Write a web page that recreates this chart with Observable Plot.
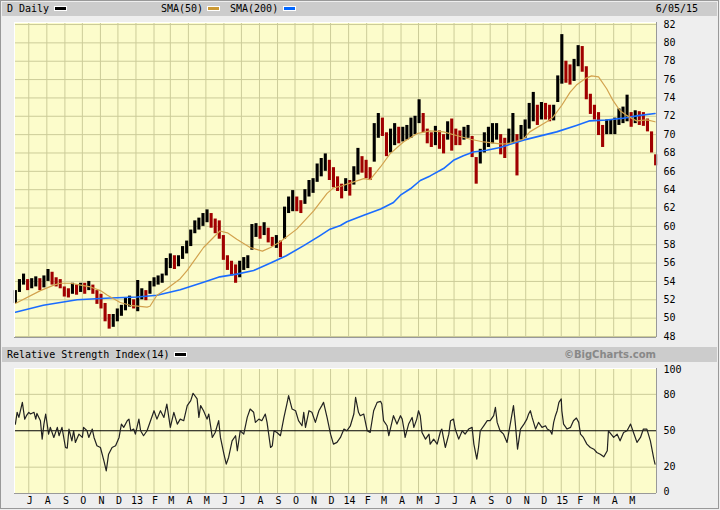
<!DOCTYPE html>
<html><head><meta charset="utf-8">
<script src="https://cdn.jsdelivr.net/npm/d3@7"></script>
<script src="https://cdn.jsdelivr.net/npm/@observablehq/plot@0.6"></script>
<style>
body{margin:0;background:#eeeeee;}
#wrap{position:relative;width:720px;height:510px;background:#eeeeee;overflow:hidden;font-family:"DejaVu Sans Mono",monospace;font-size:10px;color:#000;}
#frame{position:absolute;left:0;top:0;width:719px;height:509px;box-sizing:border-box;border:1px solid #999;pointer-events:none;}
.band{position:absolute;left:2px;width:715px;background:#cccccc;}
.t{position:absolute;white-space:pre;line-height:10px;}
.sw{position:absolute;width:11px;height:3px;border:1px solid #fff;}
#main,#rsi{position:absolute;left:0;}
#main{top:0;}
#rsi{top:362px;}
</style></head>
<body><div id="wrap">
<div class="band" style="top:2px;height:14px"></div>
<span class="t" style="left:7px;top:3.5px">D Daily</span>
<span class="sw" style="left:54px;top:6px;background:#000"></span>
<span class="t" style="left:161px;top:3.5px">SMA(50)</span>
<span class="sw" style="left:207px;top:6px;background:#cc9933"></span>
<span class="t" style="left:230px;top:3.5px">SMA(200)</span>
<span class="sw" style="left:283px;top:6px;background:#0066ff"></span>
<span class="t" style="right:22px;top:3.5px">6/05/15</span>
<div id="main"></div>
<div class="band" style="top:347px;height:15px"></div>
<span class="t" style="left:7px;top:349.5px">Relative Strength Index(14)</span>
<span class="sw" style="left:174px;top:352px;background:#000"></span>
<span class="t" style="right:64px;top:349.5px;font-family:'DejaVu Sans';font-weight:bold;color:#888">©BigCharts.com</span>
<div id="rsi"></div>
<div id="frame"></div>
</div>
<script>
// ---- data ----
const startDate = Date.UTC(2012, 5, 8); // first weekly bar
const monthLetters = ["J","F","M","A","M","J","J","A","S","O","N","D"];
const priceTicks = [48,50,52,54,56,58,60,62,64,66,68,70,72,74,76,78,80,82];
const rsiTicks = [0,20,50,80,100];
const rsiGrid = [20,80];

// weekly low / high (one entry per week)
const priceLow = [51.6,52.8,53.6,53.0,53.2,53.4,53.0,53.3,54.0,53.6,53.4,53.2,52.3,52.2,52.6,52.5,52.8,52.6,53.0,52.6,
51.5,51.0,49.6,48.8,49.0,49.6,50.2,50.8,51.2,51.0,50.7,52.0,51.9,52.6,53.4,53.6,53.8,54.6,55.4,55.3,
55.6,56.4,57.0,57.8,59.2,59.6,60.0,60.4,59.8,59.2,58.6,56.3,55.2,54.6,53.8,54.4,55.2,55.4,57.4,58.8,
58.6,59.0,58.2,57.8,57.6,56.6,58.6,61.4,61.6,61.6,61.4,62.4,63.2,63.6,64.8,65.4,66.0,65.0,64.2,63.8,
63.0,63.8,63.3,64.5,65.6,65.8,65.2,65.0,67.0,69.6,69.8,67.6,68.0,68.8,69.0,69.2,69.4,69.6,70.0,71.2,
70.2,69.0,68.6,68.8,68.4,67.9,69.4,68.2,68.8,68.8,69.4,69.6,67.5,64.6,66.8,68.0,68.6,69.0,69.4,67.8,
67.4,69.0,69.0,65.5,69.4,69.6,70.6,71.4,71.0,71.6,71.6,71.4,71.5,73.5,75.5,75.6,75.4,75.8,77.4,76.8,
73.8,72.2,71.6,69.9,68.6,70.0,70.0,70.0,71.0,71.2,71.4,70.8,71.2,71.0,70.9,70.3,68.0,66.6];
const priceHigh = [53.0,54.2,54.8,54.2,54.3,54.5,54.3,54.6,55.3,55.0,54.4,54.2,53.4,53.2,53.8,53.6,53.8,53.8,54.0,53.6,
53.0,52.6,51.6,50.4,50.4,51.0,51.4,52.2,52.4,52.0,54.1,53.2,53.0,54.0,54.4,54.6,54.8,56.5,57.0,56.8,
56.8,57.8,58.4,59.6,60.6,60.9,61.4,61.8,61.4,60.8,60.6,59.0,56.8,56.2,55.8,56.2,56.6,56.8,60.2,60.3,
60.0,60.4,59.8,58.8,59.0,58.4,62.1,63.2,63.9,63.2,62.8,64.0,65.0,65.2,66.8,67.4,67.9,67.2,66.4,65.4,
64.6,65.2,65.0,66.5,68.5,67.6,67.2,66.4,71.2,72.3,71.8,70.2,70.6,71.2,70.8,70.8,71.0,71.8,72.0,73.8,
72.3,70.6,70.2,70.9,70.4,70.0,71.4,71.7,70.6,70.4,70.8,71.0,69.8,67.5,68.4,70.2,70.8,71.2,71.2,70.0,
69.6,70.6,72.3,70.0,71.0,71.6,73.4,74.6,73.2,73.5,73.4,73.2,73.2,76.4,80.9,78.0,77.6,78.2,79.7,79.6,
77.4,74.4,73.2,72.4,71.0,71.6,71.6,71.8,72.8,73.0,74.3,72.4,72.6,72.5,72.4,71.7,70.3,67.8];

// [days after startDate, value]
const sma50 = [[0,51.6],[43,53.0],[66,53.6],[77,53.8],[95,53.8],[112,53.6],[129,53.4],[146,53.0],[158,52.5],[180,51.7],
[197,51.4],[226,51.2],[231,51.3],[243,52.5],[260,53.2],[283,54.3],[295,55.2],[323,57.7],[351,59.5],[364,59.3],
[380,58.6],[403,57.7],[424,57.3],[438,57.7],[454,58.3],[483,59.7],[512,61.7],[535,63.6],[546,64.2],[560,64.4],
[569,64.6],[598,65.2],[609,65.1],[627,66.5],[643,67.9],[666,69.2],[689,70.1],[712,70.4],[735,70.3],[757,69.9],
[781,69.5],[804,69.2],[832,69.0],[844,69.0],[872,69.5],[883,70.3],[912,71.4],[923,71.9],[938,73.2],[952,74.6],
[963,75.4],[978,76.1],[989,76.4],[1001,76.3],[1015,75.0],[1026,73.7],[1038,72.6],[1049,72.1],[1066,71.5],[1084,71.6],[1098,71.4]];
const sma200 = [[0,50.65],[48,51.4],[106,52.0],[163,52.2],[209,52.3],[243,52.5],[283,53.1],[323,53.9],[351,54.5],[380,54.8],
[409,55.2],[438,56.0],[465,56.8],[495,57.9],[523,59.0],[540,59.7],[558,60.1],[569,60.5],[598,61.2],[627,61.9],
[649,62.6],[661,63.4],[678,64.1],[695,65.0],[712,65.5],[735,66.3],[752,67.2],[769,67.7],[786,68.1],[809,68.3],
[832,68.6],[872,69.4],[929,70.3],[963,71.0],[986,71.5],[1015,71.6],[1044,71.8],[1072,72.1],[1098,72.3]];
const rsi14 = [[0,55.5],[3,65.2],[6,61.0],[12,73.4],[16,59.6],[19,62.4],[23,65.2],[26,63.8],[32,65.2],[35,59.6],[37,64.3],[43,58.3],[46,43.1],[49,55.5],[52,63.8],[55,54.1],[57,47.2],[60,52.8],[66,44.5],[72,52.8],[75,45.9],[80,52.8],[86,36.2],[89,35.7],[92,51.4],[97,41.7],[100,50],[103,40.4],[109,47.2],[115,44.5],[117,52.8],[123,50],[126,44.5],[132,51.4],[135,44.5],[140,37.6],[146,36.2],[152,25.2],[156,16.9],[160,30.7],[166,36.2],[172,37.6],[178,44.5],[182,55.5],[186,52.8],[192,58.3],[195,59.6],[198,50],[203,51.4],[206,47.2],[212,59.6],[215,50],[220,45.9],[226,50],[232,58.3],[238,66.5],[243,59.6],[249,66.5],[255,61.0],[260,72.0],[266,52.8],[272,65.2],[278,55.5],[283,59.6],[289,58.3],[295,70.7],[301,74.8],[305,80.9],[312,76.2],[315,61.0],[318,70.7],[323,66.5],[329,59.6],[332,63.8],[338,44.5],[343,48.6],[349,58.3],[352,44.5],[358,30.7],[362,22.5],[366,28.0],[372,41.7],[378,45.9],[381,33.5],[386,50],[392,47.2],[398,61.0],[403,67.9],[409,65.2],[412,56.9],[418,59.6],[423,58.3],[429,63.8],[432,56.9],[438,36.2],[441,37.6],[444,50],[449,48.6],[455,45.9],[461,61.0],[466,72.0],[469,78.9],[475,67.9],[481,66.5],[486,58.3],[492,54.1],[495,65.2],[498,52.8],[504,66.5],[509,65.2],[515,56.9],[521,66.5],[526,70.7],[529,73.4],[535,61.0],[541,47.2],[546,39.0],[552,40.4],[558,44.5],[564,51.4],[569,50],[575,54.1],[581,63.8],[584,77.5],[589,65.2],[592,62.4],[598,63.8],[604,50],[609,48.6],[615,66.5],[621,73.4],[627,74.2],[629,72.0],[632,58.3],[638,54.1],[641,45.9],[647,58.3],[649,62.4],[655,55.5],[661,62.4],[664,59.6],[667,51.4],[669,44.5],[675,55.5],[681,61.0],[684,52.8],[689,59.6],[692,66.5],[695,62.4],[698,48.6],[704,43.1],[710,47.2],[712,39.0],[718,43.1],[724,39.0],[730,50],[732,51.4],[738,36.2],[744,47.2],[747,58.3],[752,59.6],[755,51.4],[761,43.1],[767,50],[772,47.2],[778,51.4],[784,52.8],[787,39.0],[792,26.6],[795,36.2],[798,50],[804,54.1],[810,58.3],[815,58.3],[821,62.4],[824,69.3],[827,56.9],[832,50],[838,47.2],[844,40.4],[850,56.9],[855,70.7],[858,56.9],[862,34.8],[867,51.4],[873,55.5],[878,59.6],[881,63.8],[884,66.5],[887,61.0],[893,51.4],[898,56.9],[904,52.8],[910,54.1],[913,51.4],[918,50],[921,47.2],[924,56.9],[927,62.4],[930,66.5],[933,73.4],[937,76.2],[938,66.5],[941,55.5],[947,51.4],[953,52.8],[958,58.3],[963,60.5],[967,56.9],[970,47.2],[975,44.5],[981,39.0],[987,36.2],[993,34.8],[998,32.1],[1004,30.7],[1010,28.5],[1016,33.5],[1018,50],[1027,44.5],[1033,47.2],[1038,41.7],[1044,48.6],[1050,50],[1056,55.5],[1061,48.6],[1067,40.4],[1073,44.5],[1078,51.4],[1084,51.4],[1090,41.7],[1096,26.6],[1098,22.5]];

// ---- build tables ----
const DAY = 864e5;
const toDate = d => new Date(startDate + d * DAY);
const bars = priceLow.map((lo, i) => ({
  date: toDate(7 * i), lo, hi: priceHigh[i],
  up: i === 0 ? true : (lo + priceHigh[i]) >= (priceLow[i - 1] + priceHigh[i - 1])
}));
const asPts = arr => arr.map(([d, v]) => ({date: toDate(d), v}));
const s50 = asPts(sma50), s200 = asPts(sma200), rsi = asPts(rsi14);
const monthTicks = d3.utcMonth.range(new Date(Date.UTC(2012, 6, 1)), new Date(Date.UTC(2015, 5, 1)));
const xDomain = [toDate(-1.5), toDate(1100.5)];
const fmtMonth = d => d.getUTCMonth() === 0 ? String(d.getUTCFullYear()).slice(2) : monthLetters[d.getUTCMonth()];
const GRID = "#cccc99", BG = "#fcfccb";
const font = {background: "transparent", fontFamily: "DejaVu Sans Mono", fontSize: "10px", color: "#000", overflow: "visible"};

const yTop = 82.22, yBot = 47.89;
const main = Plot.plot({
  width: 720, height: 345, marginLeft: 14, marginRight: 64, marginTop: 22, marginBottom: 8,
  style: font,
  x: {type: "utc", domain: xDomain, axis: null, label: null},
  y: {domain: [yBot, yTop], axis: null, label: null},
  marks: [
    Plot.frame({fill: BG, stroke: "none"}),
    Plot.ruleX(monthTicks, {stroke: GRID, strokeWidth: 1}),
    Plot.ruleY(priceTicks, {stroke: GRID, strokeWidth: 1}),
    Plot.ruleX(bars.filter(d => d.up), {x: "date", y1: "lo", y2: "hi", stroke: "#000", strokeWidth: 3.1}),
    Plot.ruleX(bars.filter(d => !d.up), {x: "date", y1: "lo", y2: "hi", stroke: "#a00000", strokeWidth: 3.1}),
    Plot.line(s200, {x: "date", y: "v", stroke: "#1a6cff", strokeWidth: 1.6}),
    Plot.line(s50, {x: "date", y: "v", stroke: "#d2a24e", strokeWidth: 1.2}),
    Plot.ruleY([yTop], {stroke: "#fff"}),
    Plot.ruleX([xDomain[0]], {stroke: "#fff"}),
    Plot.ruleY([yBot], {stroke: "#999"}),
    Plot.ruleX([xDomain[1]], {stroke: "#999"}),
    Plot.axisY({anchor: "right", ticks: priceTicks, tickSize: 0, tickPadding: 7, tickFormat: d => String(d), label: null})
  ]
});
document.getElementById("main").appendChild(main);

const rTop = 101.3, rBot = -1.7;
const rsiChart = Plot.plot({
  width: 720, height: 148, marginLeft: 14, marginRight: 64, marginTop: 6, marginBottom: 17,
  style: font,
  x: {type: "utc", domain: xDomain, label: null},
  y: {domain: [rBot, rTop], axis: null, label: null},
  marks: [
    Plot.frame({fill: BG, stroke: "none"}),
    Plot.ruleX(monthTicks, {stroke: GRID, strokeWidth: 1}),
    Plot.ruleY(rsiGrid, {stroke: GRID, strokeWidth: 1}),
    Plot.ruleY([50], {stroke: "#000", strokeWidth: 1}),
    Plot.line(rsi, {x: "date", y: "v", stroke: "#222", strokeWidth: 1.2}),
    Plot.ruleY([rTop], {stroke: "#fff"}),
    Plot.ruleX([xDomain[0]], {stroke: "#fff"}),
    Plot.ruleY([rBot], {stroke: "#999"}),
    Plot.ruleX([xDomain[1]], {stroke: "#999"}),
    Plot.axisY({anchor: "right", ticks: rsiTicks, tickSize: 0, tickPadding: 7, tickFormat: d => String(d), label: null}),
    Plot.axisX({anchor: "bottom", ticks: monthTicks, tickSize: 0, tickPadding: 3, tickFormat: fmtMonth, dx: 1, label: null})
  ]
});
document.getElementById("rsi").appendChild(rsiChart);
</script>
</body></html>
